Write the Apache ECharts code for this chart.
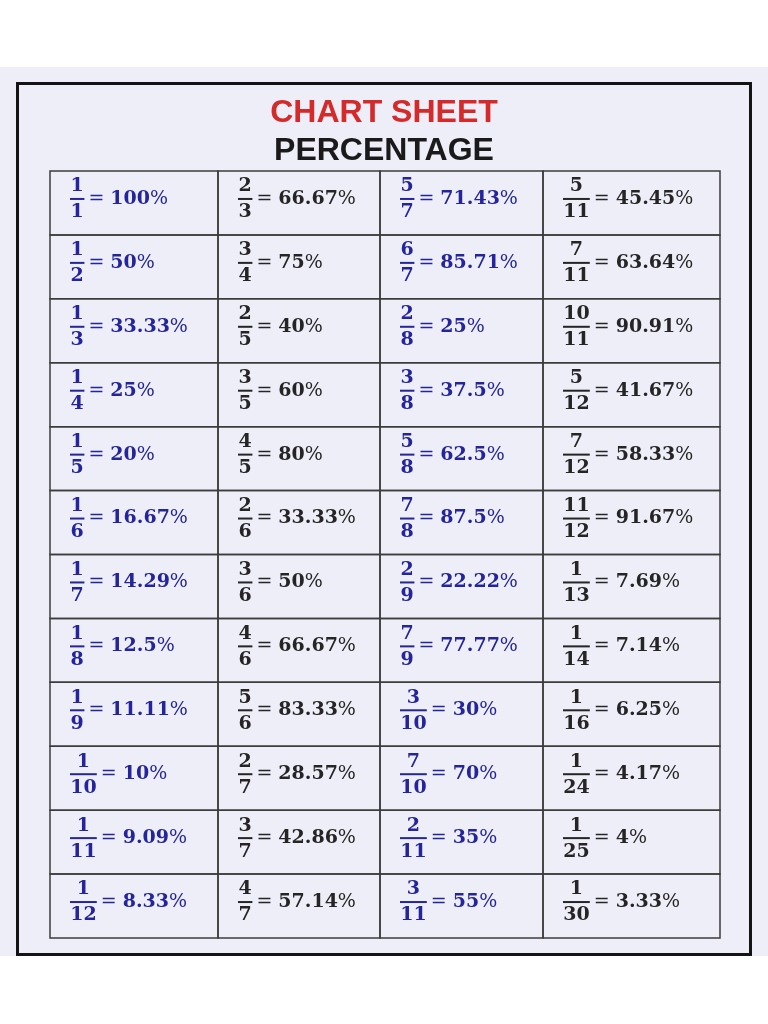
<!DOCTYPE html>
<html lang="en">
<head>
    <meta charset="UTF-8">
    <title>Chart Sheet Percentage</title>
    <style>
        html, body { margin: 0; padding: 0; background: #ffffff; }
        #main { width: 768px; height: 1024px; }
    </style>
    <script src="https://cdn.jsdelivr.net/npm/echarts@6.0.0/dist/echarts.min.js"></script>
</head>
<body>
<div id="main"></div>
<script>
    // table data, one pair of arrays per column
    var fracCol1 = ['1/1', '1/2', '1/3', '1/4', '1/5', '1/6', '1/7', '1/8', '1/9', '1/10', '1/11', '1/12'];
    var pctCol1 = ['100%', '50%', '33.33%', '25%', '20%', '16.67%', '14.29%', '12.5%', '11.11%', '10%', '9.09%', '8.33%'];
    var fracCol2 = ['2/3', '3/4', '2/5', '3/5', '4/5', '2/6', '3/6', '4/6', '5/6', '2/7', '3/7', '4/7'];
    var pctCol2 = ['66.67%', '75%', '40%', '60%', '80%', '33.33%', '50%', '66.67%', '83.33%', '28.57%', '42.86%', '57.14%'];
    var fracCol3 = ['5/7', '6/7', '2/8', '3/8', '5/8', '7/8', '2/9', '7/9', '3/10', '7/10', '2/11', '3/11'];
    var pctCol3 = ['71.43%', '85.71%', '25%', '37.5%', '62.5%', '87.5%', '22.22%', '77.77%', '30%', '70%', '35%', '55%'];
    var fracCol4 = ['5/11', '7/11', '10/11', '5/12', '7/12', '11/12', '1/13', '1/14', '1/16', '1/24', '1/25', '1/30'];
    var pctCol4 = ['45.45%', '63.64%', '90.91%', '41.67%', '58.33%', '91.67%', '7.69%', '7.14%', '6.25%', '4.17%', '4%', '3.33%'];
    var rows = ['r1', 'r2', 'r3', 'r4', 'r5', 'r6', 'r7', 'r8', 'r9', 'r10', 'r11', 'r12'];

    var fracs = [fracCol1, fracCol2, fracCol3, fracCol4];
    var pcts = [pctCol1, pctCol2, pctCol3, pctCol4];
    var colColors = ['#24249c', '#252525', '#24249c', '#252525'];

    // layout of the table columns (pixels)
    var colLeft = [50, 218, 380, 543];
    var colWidth = [168, 162, 163, 177];

    var FONT = 'DejaVu Serif';
    var FSIZE = 19;
    var DIGIT_W = 12.4; // approx width of one bold digit

    function makeRender(c) {
        return function (params, api) {
            var r = api.value(1);
            var center = api.coord([0, r]);
            var size = api.size([1, 1]);
            var x0 = center[0] - size[0] / 2;
            var y0 = center[1] - size[1] / 2;
            var parts = fracs[c][r].split('/');
            var color = colColors[c];
            var len = Math.max(parts[0].length, parts[1].length);
            var barW = len * DIGIT_W + 2;
            var fx = x0 + 20;
            var by = center[1] - 4;
            return {
                type: 'group',
                children: [
                    {
                        type: 'rect',
                        shape: { x: x0, y: y0, width: size[0], height: size[1] },
                        style: { fill: 'rgba(0,0,0,0)', stroke: '#3c3c3c', lineWidth: 1.5 }
                    },
                    {
                        type: 'text',
                        style: {
                            text: parts[0], x: fx + barW / 2, y: by - 3,
                            align: 'center', verticalAlign: 'bottom',
                            font: 'bold ' + FSIZE + 'px "' + FONT + '"', fill: color
                        }
                    },
                    {
                        type: 'line',
                        shape: { x1: fx, y1: by, x2: fx + barW, y2: by },
                        style: { stroke: color, lineWidth: 2 }
                    },
                    {
                        type: 'text',
                        style: {
                            text: parts[1], x: fx + barW / 2, y: by + 4,
                            align: 'center', verticalAlign: 'top',
                            font: 'bold ' + FSIZE + 'px "' + FONT + '"', fill: color
                        }
                    },
                    {
                        type: 'text',
                        style: {
                            text: '{e|= }{n|' + pcts[c][r].replace('%', '') + '}{p|%}',
                            x: fx + barW + 4, y: by,
                            align: 'left', verticalAlign: 'middle',
                            rich: {
                                e: { fontFamily: FONT, fontSize: FSIZE, fill: color, color: color },
                                n: { fontFamily: FONT, fontWeight: 'bold', fontSize: FSIZE, fill: color, color: color },
                                p: { fontFamily: FONT, fontSize: FSIZE, fill: color, color: color }
                            },
                            fill: color
                        }
                    }
                ]
            };
        };
    }

    var grids = [], xAxes = [], yAxes = [], series = [];
    for (var c = 0; c < fracs.length; c++) {
        grids.push({ left: colLeft[c], top: 171, width: colWidth[c], height: 767 });
        xAxes.push({ type: 'category', gridIndex: c, data: ['col' + (c + 1)], show: false });
        yAxes.push({ type: 'category', gridIndex: c, data: rows, inverse: true, show: false });
        var cells = [];
        for (var r = 0; r < rows.length; r++) {
            cells.push([0, r]);
        }
        series.push({
            type: 'custom',
            xAxisIndex: c,
            yAxisIndex: c,
            renderItem: makeRender(c),
            data: cells,
            encode: { x: 0, y: 1 },
            silent: true
        });
    }

    var chart = echarts.init(document.getElementById('main'));
    var option = {
        backgroundColor: '#ffffff',
        animation: false,
        title: [
            {
                text: 'CHART SHEET',
                left: 'center',
                top: 92,
                textStyle: { color: '#d42a2a', fontSize: 32, fontWeight: 'bold', fontFamily: 'Liberation Sans' }
            },
            {
                text: 'PERCENTAGE',
                left: 'center',
                top: 130,
                textStyle: { color: '#1a1a1a', fontSize: 32, fontWeight: 'bold', fontFamily: 'Liberation Sans' }
            }
        ],
        graphic: [
            {
                type: 'rect',
                z: -10,
                shape: { x: 0, y: 67, width: 768, height: 889 },
                style: { fill: '#eeeef8' }
            },
            {
                type: 'rect',
                z: -9,
                shape: { x: 17.5, y: 83.5, width: 733, height: 871 },
                style: { fill: 'rgba(0,0,0,0)', stroke: '#141414', lineWidth: 3 }
            }
        ],
        grid: grids,
        xAxis: xAxes,
        yAxis: yAxes,
        series: series
    };
    chart.setOption(option);
</script>
</body>
</html>
